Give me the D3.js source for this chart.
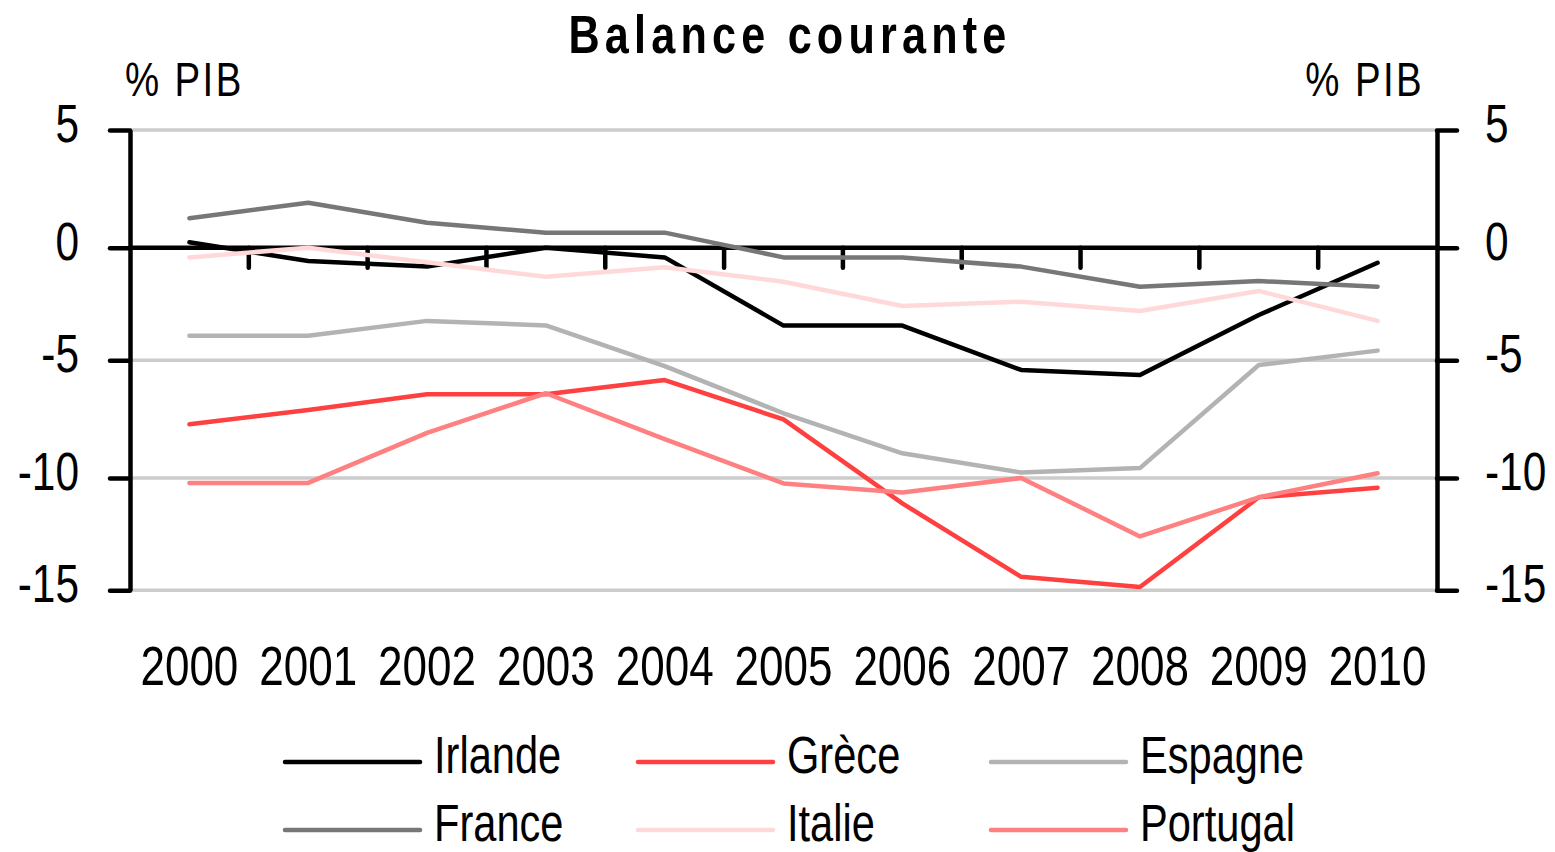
<!DOCTYPE html>
<html>
<head>
<meta charset="utf-8">
<script src="https://cdn.jsdelivr.net/npm/d3@7"></script>
<style>
  body { margin: 0; background: #fff; }
  svg text { font-family: "Liberation Sans", Arial, sans-serif; fill: #000; }
</style>
</head>
<body>
<div id="chart"></div>
<script>
var years = ["2000","2001","2002","2003","2004","2005","2006","2007","2008","2009","2010"];
var yTicks = [5, 0, -5, -10, -15];

var irlande  = [0.23, -0.59, -0.84, 0, -0.43, -3.46, -3.46, -5.41, -5.62, -2.99, -0.67];
var grece    = [-7.72, -7.11, -6.44, -6.44, -5.84, -7.51, -11.13, -14.4, -14.85, -10.86, -10.43];
var espagne  = [-3.91, -3.91, -3.25, -3.45, -5.25, -7.25, -8.95, -9.77, -9.58, -5.2, -4.57];
var france   = [1.25, 1.91, 1.06, 0.64, 0.64, -0.43, -0.43, -0.84, -1.73, -1.48, -1.73];
var italie   = [-0.43, 0, -0.65, -1.29, -0.87, -1.51, -2.59, -2.40, -2.81, -1.92, -3.25];
var portugal = [-10.22, -10.22, -8.08, -6.40, -8.35, -10.24, -10.65, -10.0, -12.6, -10.86, -9.8];

var seriesNames = ["Irlande", "Grèce", "Espagne", "France", "Italie", "Portugal"];
var seriesValues = [irlande, grece, espagne, france, italie, portugal];
var seriesColors = ["#000000", "#ff4040", "#b3b3b3", "#777777", "#ffd9d9", "#ff8080"];

var NARROW = 0.8;

// squeeze text horizontally to mimic a narrow face
function narrow(sel){
    sel.each(function(){
        var t = d3.select(this);
        var tx = +t.attr("x") || 0, ty = +t.attr("y") || 0;
        t.attr("x", 0).attr("y", 0)
         .attr("transform", "translate(" + tx + "," + ty + ") scale(" + NARROW + ",1)");
    });
}

function init(){
    var w = 1555;
    var h = 852;
    var left = 130, right = 1437;

    var svg = d3.select("#chart")
                .append("svg")
                .attr("width", w)
                .attr("height", h);

    var x = d3.scaleBand()
              .domain(years)
              .range([left, right]);

    var y = d3.scaleLinear()
              .domain([-15, -10, -5, 0, 5])
              .range([590.3, 478, 360.3, 247.7, 130]);

    // gridlines
    svg.selectAll("line.grid")
        .data(yTicks.filter(function(d){ return d !== 0; }))
        .enter()
        .append("line")
        .attr("class", "grid")
        .attr("x1", left)
        .attr("x2", right)
        .attr("y1", function(d){ return y(d); })
        .attr("y2", function(d){ return y(d); })
        .style("stroke", "#cccccc")
        .style("stroke-width", 3.5);

    // zero line + tick marks between categories
    svg.append("line")
        .attr("x1", left)
        .attr("x2", right)
        .attr("y1", y(0))
        .attr("y2", y(0))
        .style("stroke", "#000")
        .style("stroke-width", 4.5);

    svg.selectAll("line.xtick")
        .data(years.slice(1))
        .enter()
        .append("line")
        .attr("class", "xtick")
        .attr("x1", function(d){ return x(d); })
        .attr("x2", function(d){ return x(d); })
        .attr("y1", y(0))
        .attr("y2", y(0) + 20)
        .style("stroke", "#000")
        .style("stroke-width", 4.5)
        .style("stroke-linecap", "round");

    // y axes
    var fmt = function(d){ return String(d); };
    var yLeft = d3.axisLeft(y).tickValues(yTicks).tickFormat(fmt).tickSize(20).tickSizeOuter(0).tickPadding(31);
    var yRight = d3.axisRight(y).tickValues(yTicks).tickFormat(fmt).tickSize(20).tickSizeOuter(0).tickPadding(28);

    var gl = svg.append("g").attr("transform", "translate(" + left + ",0)").call(yLeft);
    var gr = svg.append("g").attr("transform", "translate(" + right + ",0)").call(yRight);

    [gl, gr].forEach(function(g){
        g.select(".domain").style("stroke", "#000").style("stroke-width", 4.5);
        g.selectAll(".tick line").style("stroke", "#000").style("stroke-width", 4.5).style("stroke-linecap", "round");
        g.selectAll(".tick text")
            .attr("dy", "0.22em")
            .style("font-size", "53px")
            .style("font-family", null)
            .call(narrow);
    });

    // x labels
    var xAxis = d3.axisBottom(x).tickSize(0).tickPadding(0);
    var gx = svg.append("g").attr("transform", "translate(0,645)").call(xAxis);
    gx.select(".domain").remove();
    gx.selectAll(".tick text")
        .attr("dy", "0.72em")
        .style("font-size", "55px")
        .style("font-family", null)
        .call(narrow);

    // lines
    var line = d3.line()
                 .x(function(d, i){ return x(years[i]) + x.bandwidth() / 2; })
                 .y(function(d){ return y(d); });

    svg.selectAll("path.series")
        .data(seriesValues)
        .enter()
        .append("path")
        .attr("class", "series")
        .attr("d", line)
        .style("fill", "none")
        .style("stroke", function(d, i){ return seriesColors[i]; })
        .style("stroke-width", 4.5)
        .style("stroke-linejoin", "round")
        .style("stroke-linecap", "round");

    // title and unit labels
    svg.append("text")
        .attr("x", 790)
        .attr("y", 53)
        .attr("text-anchor", "middle")
        .style("font-size", "54px")
        .style("font-weight", "bold")
        .style("letter-spacing", "6.5px")
        .text("Balance courante")
        .call(narrow);

    svg.append("text")
        .attr("x", 125)
        .attr("y", 96)
        .style("font-size", "48px")
        .style("letter-spacing", "3px")
        .text("% PIB")
        .call(narrow);

    svg.append("text")
        .attr("x", 1424)
        .attr("y", 96)
        .attr("text-anchor", "end")
        .style("font-size", "48px")
        .style("letter-spacing", "3px")
        .text("% PIB")
        .call(narrow);

    // legend
    var legend = svg.selectAll("g.legend")
                    .data(seriesNames)
                    .enter()
                    .append("g")
                    .attr("class", "legend")
                    .attr("transform", function(d, i){
                        var col = i % 3, row = Math.floor(i / 3);
                        return "translate(" + (285 + col * 353) + "," + (762 + row * 68) + ")";
                    });

    legend.append("line")
        .attr("x1", 0)
        .attr("x2", 135)
        .attr("y1", 0)
        .attr("y2", 0)
        .style("stroke", function(d, i){ return seriesColors[i]; })
        .style("stroke-width", 4.5)
        .style("stroke-linecap", "round");

    legend.append("text")
        .attr("x", 149)
        .attr("y", 11)
        .style("font-size", "52px")
        .text(function(d){ return d; })
        .call(narrow);
}
window.onload = init;
</script>
</body>
</html>
